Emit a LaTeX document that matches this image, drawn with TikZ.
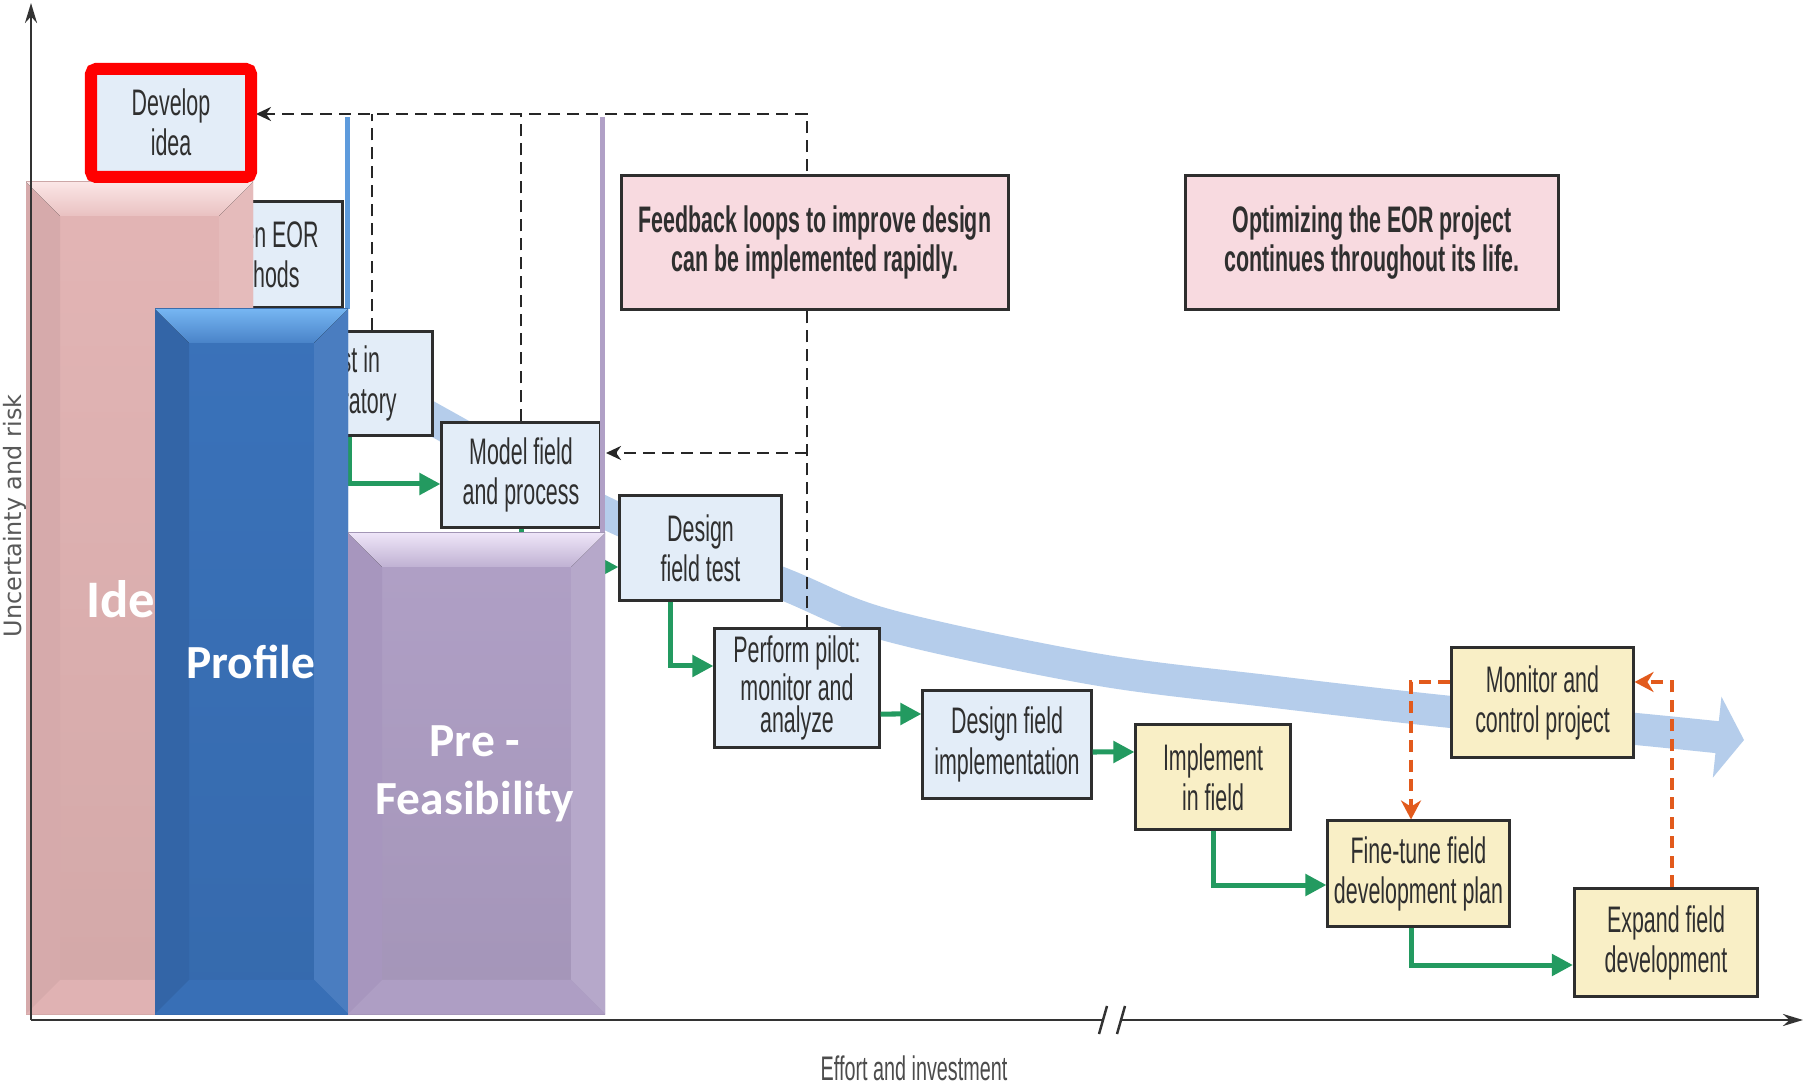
\documentclass[tikz,border=0pt]{standalone}
\usepackage{fontspec}
\usepackage{tikz}
\usetikzlibrary{arrows.meta}
\usetikzlibrary{backgrounds}

\setmainfont{Liberation Sans}
\newfontfamily\boxfont[FakeStretch=0.58]{Liberation Sans}
\newfontfamily\phasefont{Carlito}
\newfontfamily\axisfont{DejaVu Sans}

\definecolor{boxblue}{HTML}{E3EDF8}
\definecolor{boxyellow}{HTML}{F9EFC6}
\definecolor{boxpink}{HTML}{F8DAE0}
\definecolor{edgegray}{HTML}{2E2E2E}
\definecolor{inkgray}{HTML}{2F2F2F}
\definecolor{flowgreen}{HTML}{239A60}
\definecolor{loopred}{HTML}{E25A1C}
\definecolor{bandblue}{HTML}{B5CDEB}
\definecolor{ideapink}{HTML}{E3B5B5}
\definecolor{ideapinkhi}{HTML}{FBE6E6}
\definecolor{ideapinklo}{HTML}{C79C9E}
\definecolor{profblue}{HTML}{3A72BA}
\definecolor{profbluehi}{HTML}{76B6F2}
\definecolor{profbluelo}{HTML}{2A5690}
\definecolor{prefpurple}{HTML}{B0A0C6}
\definecolor{prefpurplehi}{HTML}{EEE5F8}
\definecolor{prefpurplelo}{HTML}{9C8AB4}

% bevelled bar: #1,#2 top left, #3,#4 bottom right, #5 base, #6 light, #7 dark
\newcommand{\phasebar}[7]{%
	\fill[top color=#5, bottom color=#5!93!black] (#1,#2) rectangle (#3,#4);
	\fill[#5!55!#7] (#1,#2) -- (#1+34,#2+34) -- (#1+34,#4-34) -- (#1,#4) -- cycle;
	\fill[#5!92!white] (#3,#2) -- (#3-34,#2+34) -- (#3-34,#4-34) -- (#3,#4) -- cycle;
	\fill[top color=#6, bottom color=#5!75!#6] (#1,#2) -- (#3,#2) -- (#3-34,#2+34) -- (#1+34,#2+34) -- cycle;
	\fill[#5!90!#7] (#1,#4) -- (#3,#4) -- (#3-34,#4-34) -- (#1+34,#4-34) -- cycle;
}

\begin{document}
\begin{tikzpicture}[x=0.01cm,y=-0.01cm]
		\useasboundingbox (0,0) rectangle (1806,1086);

		% process steps
		\begin{scope}[every node/.style={draw=edgegray,line width=0.03cm,fill=boxblue,text=inkgray,
		              align=center,inner sep=0pt,font=\boxfont\fontsize{10.5}{11.4}\selectfont}]
			\node[minimum width=1.50cm,minimum height=1.00cm] (1) at (171,122) {Develop\\idea};
			\node[minimum width=1.67cm,minimum height=1.06cm] (2) at (258.5,254.5) {Screen EOR\\methods};
			\node[minimum width=1.66cm,minimum height=1.03cm] (3) at (349,383.5) {Test in\\laboratory};
			\node[minimum width=1.58cm,minimum height=1.04cm] (4) at (521,475) {Model field\\and process};
			\node[minimum width=1.61cm,minimum height=1.04cm] (5) at (700.5,548) {Design\\field test};
			\node[minimum width=1.64cm,minimum height=1.18cm,
			      font=\boxfont\fontsize{10.5}{9.2}\selectfont] (6) at (797,688) {Perform pilot:\\monitor and\\analyze};
			\node[minimum width=1.68cm,minimum height=1.07cm] (7) at (1007,744.5) {Design field\\implementation};
		\end{scope}

		\begin{scope}[every node/.style={draw=edgegray,line width=0.03cm,fill=boxyellow,text=inkgray,
		              align=center,inner sep=0pt,font=\boxfont\fontsize{10.5}{11.4}\selectfont}]
			\node[minimum width=1.54cm,minimum height=1.04cm] (8) at (1213,777) {Implement\\in field};
			\node[minimum width=1.81cm,minimum height=1.05cm] (9) at (1418.5,873.5) {Fine-tune field\\development plan};
			\node[minimum width=1.83cm,minimum height=1.07cm] (10) at (1666,942.5) {Expand field\\development};
			\node[minimum width=1.81cm,minimum height=1.09cm] (11) at (1542.5,702.5) {Monitor and\\control project};
		\end{scope}

		\begin{scope}[every node/.style={draw=edgegray,line width=0.03cm,fill=boxpink,text=inkgray,
		              align=center,inner sep=0pt,font=\boxfont\bfseries\fontsize{10.5}{10.9}\selectfont}]
			\node[minimum width=3.86cm,minimum height=1.33cm] (12) at (815,242.5) {Feedback loops to improve design\\can be implemented rapidly.};
			\node[minimum width=3.72cm,minimum height=1.33cm] (13) at (1372,242.5) {Optimizing the EOR project\\continues throughout its life.};
		\end{scope}

		\coordinate (devin) at (256,114);
		\coordinate (modin) at (606,453);

		% trend band and feedback loops behind the boxes
		\begin{scope}[on background layer]
			\fill[white] (0,0) rectangle (1806,1086);
			\draw[bandblue,line width=0.32cm,-{Triangle[length=0.27cm,width=0.8cm]}]
				plot[smooth,tension=0.55] coordinates {(380,388) (438,422) (612,516) (781,583) (887,625)
				(1094,669) (1267,691) (1451,712) (1636,729) (1744,740)};
		\end{scope}

		\begin{scope}[on background layer,
		              >={Stealth[length=0.15cm,width=0.14cm]},
		              every edge/.style={draw=black!85,line width=0.026cm,dash pattern=on 0.12cm off 0.07cm},
		              elbow/.style={to path={|- (\tikztotarget)}}]
			\path ([xshift=0.1cm]6.north) edge[->,elbow] (devin);
			\path ([xshift=0.23cm]3.north) edge ([xshift=0.23cm]3.north |- devin);
			\path (4.north) edge (4.north |- devin);
			\path ([xshift=0.1cm]6.north |- modin) edge[->] (modin);
		\end{scope}

		\begin{scope}[>={Triangle[length=0.21cm,width=0.21cm]},
		              every edge/.style={draw=flowgreen,line width=0.05cm},
		              elbow/.style={to path={|- (\tikztotarget)}}]
			\path (3.south) edge[->,elbow] ([yshift=-0.09cm]4.west);
			\path (4.south) edge[->,elbow] ([yshift=-0.19cm]5.west);
			\path ([xshift=-0.3cm]5.south) edge[->,elbow] ([yshift=0.22cm]6.west);
			\path ([yshift=-0.26cm]6.east) edge[->] ([yshift=0.305cm]7.west);
			\path ([yshift=-0.075cm]7.east) edge[->] ([yshift=0.25cm]8.west);
			\path (8.south) edge[->,elbow] ([yshift=-0.115cm]9.west);
			\path ([xshift=-0.075cm]9.south) edge[->,elbow] ([yshift=-0.225cm]10.west);
		\end{scope}

		\begin{scope}[>={Stealth[length=0.19cm,width=0.2cm]},
		              every edge/.style={draw=loopred,line width=0.042cm,dash pattern=on 0.12cm off 0.075cm},
		              elbow/.style={to path={|- (\tikztotarget)}},
		              across/.style={to path={-| (\tikztotarget)}}]
			\path ([yshift=0.205cm]11.west) edge[->,across] ([xshift=-0.075cm]9.north);
			\path ([xshift=0.06cm]10.north) edge[->,elbow] ([yshift=0.205cm]11.east);
		\end{scope}

		% phase bars
		\draw[profbluehi!60!profblue,line width=0.05cm] (347,117) -- (347,309);
		\draw[prefpurple,line width=0.05cm] (602,117) -- (602,533);

		\tikzset{phase/.style={text=white,align=center,font=\phasefont\bfseries\fontsize{13.5}{16.4}\selectfont}}
		\phasebar{26}{182}{253}{1014}{ideapink}{ideapinkhi}{ideapinklo}
		\node[phase,font=\phasefont\bfseries\fontsize{15}{18}\selectfont] (idea) at (134,599) {Idea};
		\phasebar{155}{309}{348}{1014}{profblue}{profbluehi}{profbluelo}
		\node[phase] (profile) at (250.5,662) {Profile};
		\phasebar{348}{533}{605}{1014}{prefpurple}{prefpurplehi}{prefpurplelo}
		\node[phase] (prefeas) at (475,774) {Pre -\\Feasibility};

		\draw[red,line width=0.12cm,rounded corners=0.05cm] (91,69) rectangle (251,177);

		% axes
		\coordinate (O) at (31,1020);
		\coordinate (ytip) at (31,3);
		\coordinate (xtip) at (1803,1020);
		\coordinate (b1) at (1103,1020);
		\coordinate (b2) at (1121,1020);
		\begin{scope}[>={Stealth[length=0.2cm,width=0.12cm]},
		              every path/.style={draw=black!80,line width=0.025cm}]
			\draw[->] (O) -- (ytip);
			\draw (O) -- (b1);
			\draw[->] (b2) -- (xtip);
			\draw ([xshift=-0.04cm,yshift=-0.14cm]b1) -- ([xshift=0.04cm,yshift=0.14cm]b1);
			\draw ([xshift=-0.04cm,yshift=-0.14cm]b2) -- ([xshift=0.04cm,yshift=0.14cm]b2);
		\end{scope}
		\node[text=black!70,font=\boxfont\fontsize{9.7}{11}\selectfont] (xlabel) at (914,1068) {Effort and investment};
		\node[rotate=90,text=black!65,font=\axisfont\fontsize{6.8}{8}\selectfont] (ylabel) at (15,516) {Uncertainty and risk};
\end{tikzpicture}
\end{document}
